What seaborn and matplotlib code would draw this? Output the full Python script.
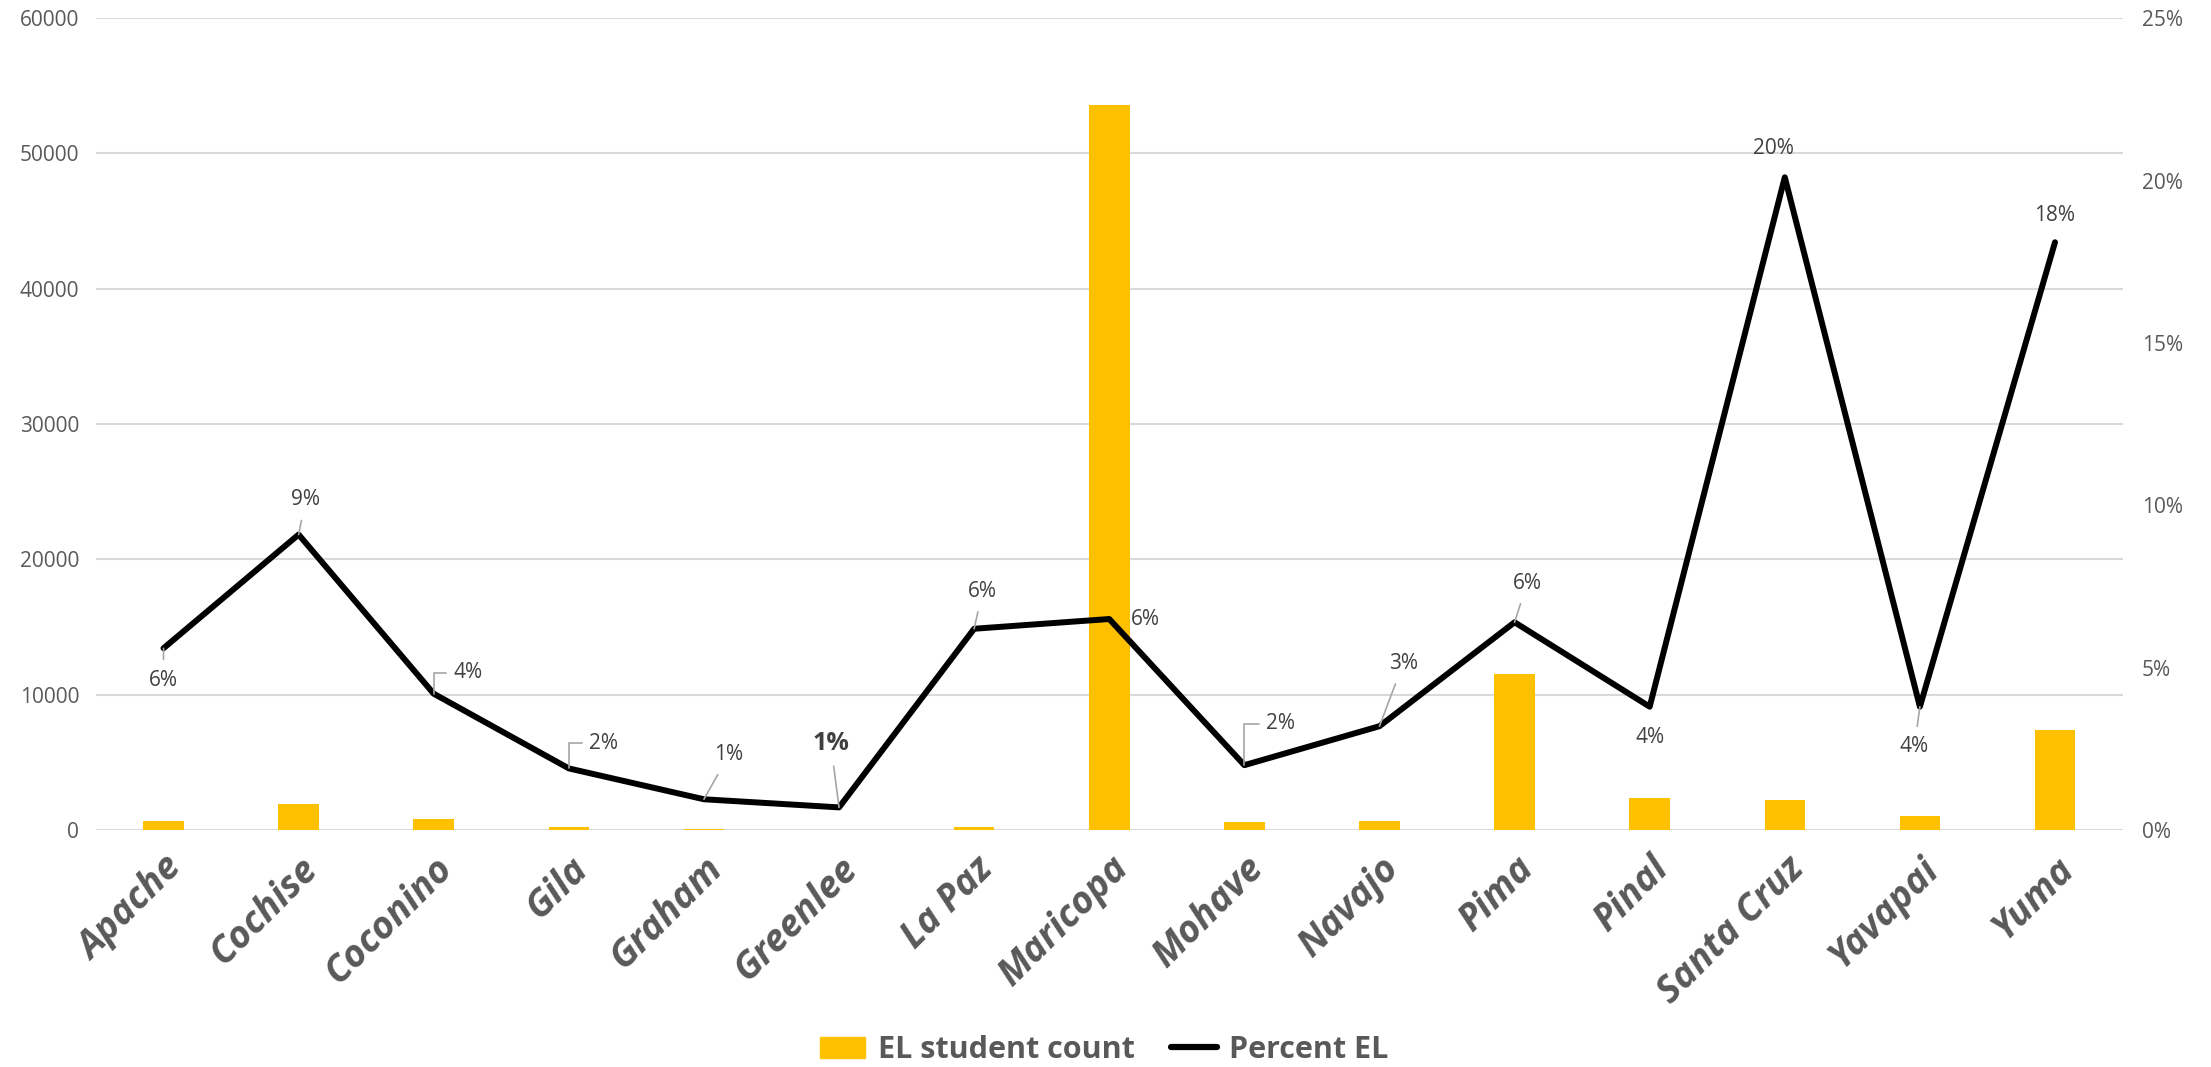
import matplotlib
matplotlib.use("Agg")
import matplotlib.pyplot as plt
import seaborn as sns
import numpy as np
import pandas as pd
from matplotlib.ticker import FuncFormatter
from matplotlib.patches import Patch
from matplotlib.lines import Line2D

# Data
counties = ['Apache', 'Cochise', 'Coconino', 'Gila', 'Graham', 'Greenlee', 'La Paz',
            'Maricopa', 'Mohave', 'Navajo', 'Pima', 'Pinal', 'Santa Cruz', 'Yavapai', 'Yuma']
el_count = [700, 1900, 850, 200, 100, 30, 200, 53600, 600, 700, 11550, 2400, 2200, 1050, 7400]
pct_el = [0.056, 0.091, 0.042, 0.019, 0.0095, 0.007, 0.062, 0.065, 0.020, 0.032, 0.064,
          0.038, 0.201, 0.038, 0.181]
pct_labels = ['6%', '9%', '4%', '2%', '1%', '1%', '6%', '6%', '2%', '3%', '6%', '4%', '20%', '4%', '18%']
# label offsets in points (dx, dy) and leader style: None, 'line' or 'elbow'
label_offsets = [(0, -23), (5, 25), (25, 15), (25, 18), (18, 32), (-6, 46), (6, 27), (26, 0),
                 (26, 30), (17, 45), (9, 28), (0, -22), (-8, 21), (-4, -29), (0, 19)]
leader = ['line', 'line', 'elbow', 'elbow', 'line', 'line', 'line', None,
          'elbow', 'line', 'line', None, None, 'line', None]

df = pd.DataFrame({'county': counties, 'count': el_count, 'pct': pct_el})
df['pos'] = np.arange(len(counties))

sns.set_style('white')
plt.rcParams['font.family'] = ['Open Sans', 'DejaVu Sans']

grey = '#595959'
fig = plt.figure(figsize=(22.11, 10.67), dpi=100)
ax = fig.add_axes([0.0434, 0.222, 0.9166, 0.761])

sns.barplot(data=df, x='pos', y='count', color='#FFC000', width=0.3, saturation=1,
            linewidth=0, ax=ax)
ax.set_ylim(0, 60000)
ax.set_yticks(range(0, 60001, 10000))
ax.yaxis.grid(True, color='#d9d9d9', linewidth=1.5)
ax.set_axisbelow(True)
ax.set_xlim(-0.5, len(counties) - 0.5)
ax.set_xticks(df['pos'])
ax.set_xticklabels(counties, rotation=45, ha='right', rotation_mode='anchor',
                   fontsize=27, fontweight='bold', fontstyle='italic', color=grey)
ax.tick_params(axis='x', length=0, pad=14)
ax.tick_params(axis='y', length=0, pad=12, labelsize=15, labelcolor=grey)
ax.set_xlabel('')
ax.set_ylabel('')
for s in ax.spines.values():
    s.set_visible(False)

ax2 = ax.twinx()
sns.lineplot(data=df, x='pos', y='pct', color='black', linewidth=4.3, ax=ax2)
ax2.set_ylim(0, 0.25)
ax2.set_yticks(np.arange(0, 0.2501, 0.05))
ax2.yaxis.set_major_formatter(FuncFormatter(lambda v, p: f'{v*100:.0f}%'))
ax2.tick_params(axis='y', length=0, pad=14, labelsize=15, labelcolor=grey)
ax2.set_xlim(-0.5, len(counties) - 0.5)
ax2.set_ylabel('')
ax2.set_xlabel('')
for s in ax2.spines.values():
    s.set_visible(False)

for i, (lab, off, ld) in enumerate(zip(pct_labels, label_offsets, leader)):
    bold = (i == 5)
    arrow = None
    if ld == 'line':
        arrow = dict(arrowstyle='-', color='#a6a6a6', lw=1.2, shrinkA=5, shrinkB=0)
    elif ld == 'elbow':
        arrow = dict(arrowstyle='-', color='#a6a6a6', lw=1.2, shrinkA=3, shrinkB=0,
                     connectionstyle='angle,angleA=0,angleB=90,rad=0')
    ax2.annotate(lab, (df['pos'][i], pct_el[i]), xytext=off, textcoords='offset points',
                 ha='center', va='center', fontsize=18 if bold else 15,
                 fontweight='bold' if bold else 'normal', color='#404040', arrowprops=arrow)

handles = [Patch(color='#FFC000', label='EL student count'),
           Line2D([0], [0], color='black', lw=4.5, label='Percent EL')]
fig.legend(handles=handles, loc='center', bbox_to_anchor=(0.4994, 0.016), ncol=2, frameon=False,
           prop={'size': 22, 'weight': 'bold'}, labelcolor=grey, handlelength=1.5,
           handletextpad=0.4, columnspacing=1.2)

fig.savefig('out.png', dpi=100)
